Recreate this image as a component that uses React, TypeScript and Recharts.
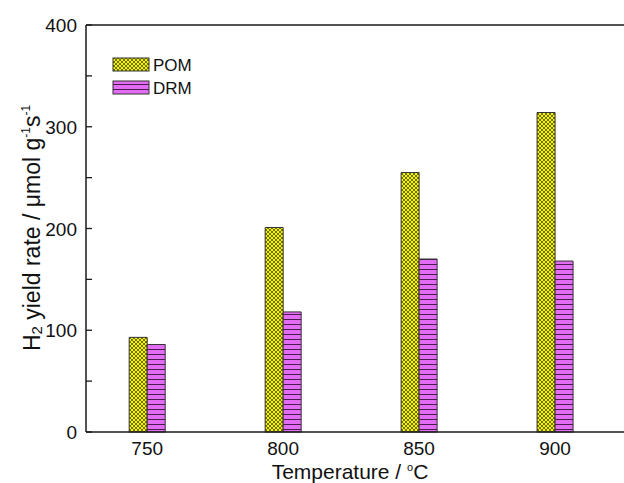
import React from "react";
import { BarChart, Bar, XAxis, YAxis, ReferenceLine } from "recharts";

const temperatures = [750, 800, 850, 900];
const pomValues = [93, 201, 255, 314];
const drmValues = [86, 118, 170, 168];
const yTicks = [0, 50, 100, 150, 200, 250, 300, 350, 400];
const xTicks = [750, 800, 850, 900];
const seriesNames = ["POM", "DRM"];

const data = temperatures.map((t, i) => ({ t, POM: pomValues[i], DRM: drmValues[i] }));

const FONT = "'Liberation Sans', Arial, sans-serif";
const AXIS = "#1a1a1a";

const YTick = (props: any) => {
  const { x, y, payload } = props;
  const v = payload.value;
  return (
    <g>
      <line x1={x} x2={x + 6} y1={y} y2={y} stroke={AXIS} strokeWidth={1.3} />
      {v % 100 === 0 && (
        <text x={x - 9} y={y} dy={7} textAnchor="end" fontSize={19} fontFamily={FONT} fill="#111">
          {v}
        </text>
      )}
    </g>
  );
};

const XTick = (props: any) => {
  const { x, y, payload } = props;
  return (
    <text x={x} y={y} dy={23} textAnchor="middle" fontSize={19} fontFamily={FONT} fill="#111">
      {payload.value}
    </text>
  );
};

const LegendSvg = () => (
  <g fontFamily={FONT} fontSize={17} fill="#111">
    <rect x={113} y={58} width={36} height={13} fill="url(#pomPat)" stroke="#333" strokeWidth={1} />
    <text x={153} y={71}>{seriesNames[0]}</text>
    <rect x={113} y={81} width={36} height={13} fill="url(#drmPat)" stroke="#333" strokeWidth={1} />
    <text x={153} y={94}>{seriesNames[1]}</text>
  </g>
);

const YLabel = () => (
  <text transform="translate(40,228) rotate(-90)" textAnchor="middle" fontSize={23} fontFamily={FONT} fill="#111">
    <tspan>H</tspan>
    <tspan fontSize={15} dy={2}>2</tspan>
    <tspan dy={-2}> yield rate / μmol g</tspan>
    <tspan fontSize={12} dy={-10}>-1</tspan>
    <tspan dy={10}>s</tspan>
    <tspan fontSize={12} dy={-10}>-1</tspan>
  </text>
);

const XLabel = () => (
  <text x={350} y={479} textAnchor="middle" fontSize={21} fontFamily={FONT} fill="#111">
    <tspan>Temperature / </tspan>
    <tspan fontSize={11} dy={-8}>o</tspan>
    <tspan dy={8}>C</tspan>
  </text>
);

export default function App() {
  return (
    <div style={{ position: "absolute", left: 0, top: 0, width: 624, height: 483, overflow: "hidden", background: "#fff" }}>
      <BarChart
        width={720}
        height={483}
        data={data}
        margin={{ top: 25, right: 29, bottom: 21, left: 26 }}
        barGap={0}
        barSize={18}
      >
        <defs>
          <pattern id="pomPat" width="4" height="4" patternUnits="userSpaceOnUse">
            <rect width="4" height="4" fill="#f5f500" />
            <path d="M0,0 L4,4 M4,0 L0,4" stroke="#3a3a10" strokeWidth="0.7" />
          </pattern>
          <pattern id="drmPat" width="8" height="5" patternUnits="userSpaceOnUse">
            <rect width="8" height="5" fill="#e36cf5" />
            <line x1="0" x2="8" y1="4.5" y2="4.5" stroke="#4a1a50" strokeWidth="1" />
          </pattern>
        </defs>
        <XAxis
          dataKey="t"
          type="number"
          domain={[727.5, 950]}
          ticks={xTicks}
          allowDataOverflow
          height={30}
          tickSize={0}
          tickMargin={0}
          tick={<XTick />}
          axisLine={{ stroke: AXIS, strokeWidth: 1.5 }}
          tickLine={false}
        />
        <YAxis
          domain={[0, 400]}
          ticks={yTicks}
          width={60}
          tickSize={0}
          tickMargin={0}
          tick={<YTick />}
          axisLine={{ stroke: AXIS, strokeWidth: 1.5 }}
          tickLine={false}
          interval={0}
        />
        <ReferenceLine y={400} stroke={AXIS} strokeWidth={1.5} />
        <Bar dataKey="POM" fill="url(#pomPat)" stroke="#333" strokeWidth={1} isAnimationActive={false} />
        <Bar dataKey="DRM" fill="url(#drmPat)" stroke="#333" strokeWidth={1} isAnimationActive={false} />
        <LegendSvg />
        <YLabel />
        <XLabel />
      </BarChart>
    </div>
  );
}
